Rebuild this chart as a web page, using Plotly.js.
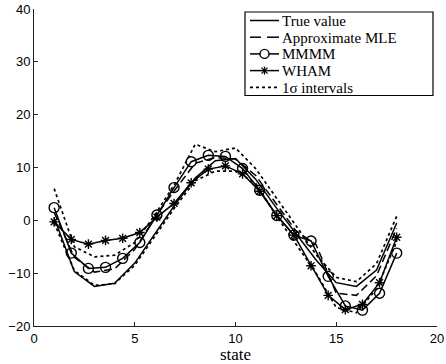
<!DOCTYPE html>
<html>
<head>
<meta charset="utf-8">
<script src="https://cdn.plot.ly/plotly-3.0.1.min.js"></script>
<style>html,body{margin:0;padding:0;background:#fff;}#chart{width:446px;height:364px;}</style>
</head>
<body>
<div id="chart"></div>
<script>
// integer states
var stateInt = [1,2,3,4,5,6,7,8,9,10,11,12,13,14,15,16,17,18];
// estimator sample points
var stateFine = [1.0,1.85,2.7,3.55,4.4,5.25,6.1,6.95,7.8,8.65,9.5,10.35,11.2,12.05,12.9,13.75,14.6,15.45,16.3,17.15,18.0];

var trueValue = [0.5,-9.7,-12.5,-11.9,-8.1,-2.5,3.0,8.0,11.3,11.7,7.8,2.5,-2.5,-7.5,-11.8,-12.5,-9.4,-0.5];
var approxMLE = [1.5,-7.0,-9.8,-9.2,-5.5,0.5,5.8,10.8,11.9,11.6,8.5,3.2,-2.0,-4.6,-13.8,-14.2,-10.5,-1.5];
var mmmm = [2.4,-6.2,-9.1,-8.9,-7.2,-4.2,1.0,6.2,11.1,12.3,12.1,9.8,5.7,0.9,-2.8,-3.9,-10.6,-16.2,-17.0,-13.8,-6.2];
var wham = [-0.3,-3.6,-4.5,-3.8,-3.4,-2.3,0.6,3.2,7.1,9.7,10.3,8.8,5.5,0.9,-2.8,-8.6,-14.2,-16.9,-15.9,-11.8,-3.2];
var upperCI = [6.0,-5.0,-6.9,-6.6,-4.2,1.0,7.0,14.4,13.0,13.7,9.8,4.5,-1.0,-6.5,-10.8,-11.6,-8.2,0.8];
var lowerCI = [-0.5,-9.5,-12.3,-12.0,-8.5,-3.0,2.5,7.5,9.3,9.3,7.0,1.0,-4.5,-10.0,-16.5,-17.5,-13.0,-4.0];

var xTicks = [0,5,10,15,20];
var yTicks = [-20,-10,0,10,20,30,40];
var xLabel = 'state';
var legendNames = ['True value', 'Approximate MLE', 'MMMM', 'WHAM', '1\u03C3 intervals'];

var lw = 1.5;
var traces = [
  {x: stateInt, y: trueValue, name: legendNames[0], mode: 'lines', line: {color: '#000', width: lw}},
  {x: stateInt, y: approxMLE, name: legendNames[1], mode: 'lines', line: {color: '#000', width: lw, dash: '8px,4px'}},
  {x: stateFine, y: mmmm, name: legendNames[2], mode: 'lines+markers', line: {color: '#000', width: lw},
   marker: {symbol: 'circle-open', size: 10, color: '#000', line: {width: 1.4, color: '#000'}}},
  {x: stateFine, y: wham, name: legendNames[3], mode: 'lines+markers', line: {color: '#000', width: lw},
   marker: {symbol: 'asterisk-open', size: 8, color: '#000', line: {width: 1.4, color: '#000'}}},
  {x: stateInt, y: upperCI, name: legendNames[4], mode: 'lines', line: {color: '#000', width: 1.7, dash: 'dot'}},
  {x: stateInt, y: lowerCI, name: 'lower', mode: 'lines', line: {color: '#000', width: 1.7, dash: 'dot'}}
];
traces.forEach(function(t){ t.showlegend = false; });

// ---- hand-drawn legend (matching the compact MATLAB legend) ----
var M = {l: 34, r: 9, t: 9, b: 38};
var W = 446, H = 364;
function px(v){ return (v - M.l) / (W - M.l - M.r); }
function py(v){ return (H - M.b - v) / (H - M.t - M.b); }

var shapes = [];
var annotations = [];
var rows = [20.5, 37.2, 53.9, 70.6, 87.3];
var box = {x0: 245, x1: 433, y0: 12, y1: 95.5};
shapes.push({type: 'rect', xref: 'paper', yref: 'paper', layer: 'above',
  x0: px(box.x0), x1: px(box.x1), y0: py(box.y1), y1: py(box.y0),
  fillcolor: '#fff', line: {color: '#000', width: 1.2}});
var sx0 = 250, sx1 = 279, sxc = 264.5;
function seg(x0, y0, x1, y1, w, dash){
  shapes.push({type: 'line', xref: 'paper', yref: 'paper', layer: 'above',
    x0: px(x0), y0: py(y0), x1: px(x1), y1: py(y1), line: {color: '#000', width: w, dash: dash || 'solid'}});
}
seg(sx0, rows[0], sx1, rows[0], 1.5);
seg(sx0, rows[1], sx0 + 11, rows[1], 1.5);
seg(sx0 + 17, rows[1], sx1, rows[1], 1.5);
seg(sx0, rows[2], sxc - 4.5, rows[2], 1.5);
seg(sxc + 4.5, rows[2], sx1, rows[2], 1.5);
shapes.push({type: 'circle', xref: 'paper', yref: 'paper', layer: 'above',
  x0: px(sxc - 4.5), x1: px(sxc + 4.5), y0: py(rows[2] + 4.5), y1: py(rows[2] - 4.5),
  line: {color: '#000', width: 1.4}, fillcolor: 'rgba(0,0,0,0)'});
seg(sx0, rows[3], sx1, rows[3], 1.5);
var r = 4;
seg(sxc, rows[3] - r, sxc, rows[3] + r, 1.3);
seg(sxc - r * 0.75, rows[3] - r * 0.75, sxc + r * 0.75, rows[3] + r * 0.75, 1.3);
seg(sxc - r * 0.75, rows[3] + r * 0.75, sxc + r * 0.75, rows[3] - r * 0.75, 1.3);
seg(sx0, rows[4], sx1, rows[4], 1.7, 'dot');
legendNames.forEach(function(n, i){
  annotations.push({text: n, xref: 'paper', yref: 'paper', x: px(281), y: py(rows[i] + 0.5),
    xanchor: 'left', yanchor: 'middle', showarrow: false, borderpad: 0,
    font: {family: 'Liberation Serif, serif', size: 15, color: '#000'}});
});

var layout = {
  width: W, height: H,
  margin: M,
  paper_bgcolor: '#fff', plot_bgcolor: '#fff',
  showlegend: false,
  shapes: shapes,
  annotations: annotations,
  xaxis: {
    range: [0, 20], tickvals: xTicks, ticktext: xTicks.map(String),
    showgrid: false, zeroline: false, showline: true, linecolor: '#222', linewidth: 1,
    ticks: 'inside', ticklen: 4, tickcolor: '#222',
    tickfont: {family: 'Liberation Sans, Arial, sans-serif', size: 13, color: '#000'},
    title: {text: xLabel, font: {family: 'Liberation Serif, serif', size: 17, color: '#000'}, standoff: 0}
  },
  yaxis: {
    range: [-20, 40], tickvals: yTicks, ticktext: yTicks.map(function(v){return v < 0 ? '\u2212' + Math.abs(v) : String(v);}),
    showgrid: false, zeroline: false, showline: true, linecolor: '#222', linewidth: 1,
    ticks: 'inside', ticklen: 4, tickcolor: '#222',
    tickfont: {family: 'Liberation Sans, Arial, sans-serif', size: 13, color: '#000'}
  }
};

Plotly.newPlot('chart', traces, layout, {displayModeBar: false, staticPlot: true});
</script>
</body>
</html>
